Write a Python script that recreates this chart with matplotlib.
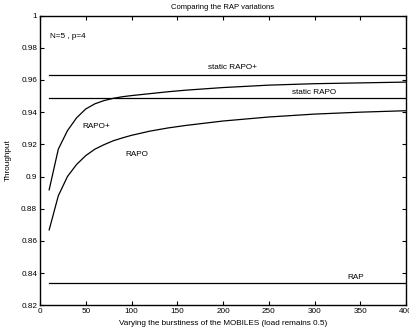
import matplotlib
matplotlib.use("Agg")
import matplotlib.pyplot as plt

# burstiness values and throughput
burst = [10, 20, 30, 40, 50, 60, 70, 80, 90, 100, 120, 140, 160, 200,
         250, 300, 350, 400]
rapo_plus = [0.8917, 0.917, 0.9285, 0.9365, 0.9420, 0.9452, 0.9472, 0.9486,
             0.9496, 0.9503, 0.9515, 0.9527, 0.9537, 0.9553, 0.9568, 0.9577,
             0.9582, 0.9587]
rapo = [0.8668, 0.8880, 0.9000, 0.9075, 0.9130, 0.9170, 0.9198, 0.9222,
        0.9240, 0.9256, 0.9282, 0.9302, 0.9318, 0.9345, 0.9370, 0.9388,
        0.9400, 0.9409]

static_rapo_plus = 0.9631
static_rapo = 0.9486
rap = 0.834

plt.rcParams['font.family'] = ['Liberation Sans', 'DejaVu Sans']
plt.rcParams['font.size'] = 5.9

fig = plt.figure(figsize=(4.09, 3.33), dpi=100)
ax = fig.add_axes([0.0978, 0.0835, 0.895, 0.8695])

lw = 0.9
ax.plot([burst[0], burst[-1]], [static_rapo_plus] * 2, color='black', lw=lw)
ax.plot([burst[0], burst[-1]], [static_rapo] * 2, color='black', lw=lw)
ax.plot([burst[0], burst[-1]], [rap] * 2, color='black', lw=lw)
ax.plot(burst, rapo_plus, color='black', lw=lw)
ax.plot(burst, rapo, color='black', lw=lw)

ax.text(11, 0.987, 'N=5 , p=4', ha='left', va='center')
ax.text(210, 0.9675, 'static RAPO+', ha='center', va='center')
ax.text(300, 0.952, 'static RAPO', ha='center', va='center')
ax.text(62, 0.931, 'RAPO+', ha='center', va='center')
ax.text(106, 0.9134, 'RAPO', ha='center', va='center')
ax.text(345, 0.8375, 'RAP', ha='center', va='center')

ax.set_xlim(0, 400)
ax.set_ylim(0.82, 1.0)
ax.set_xticks(range(0, 401, 50))
ax.set_yticks([0.82, 0.84, 0.86, 0.88, 0.9, 0.92, 0.94, 0.96, 0.98, 1.0])
ax.set_yticklabels(['0.82', '0.84', '0.86', '0.88', '0.9', '0.92', '0.94',
                    '0.96', '0.98', '1'])
ax.tick_params(direction='in', top=True, right=True, length=3, width=0.8, pad=2)
for s in ax.spines.values():
    s.set_linewidth(1.0)

ax.set_title('Comparing the RAP variations', fontsize=5.5, pad=5)
ax.set_xlabel('Varying the burstiness of the MOBILES (load remains 0.5)', labelpad=3.5)
ax.set_ylabel('Throughput', labelpad=7)

fig.savefig('out.png', dpi=100)
